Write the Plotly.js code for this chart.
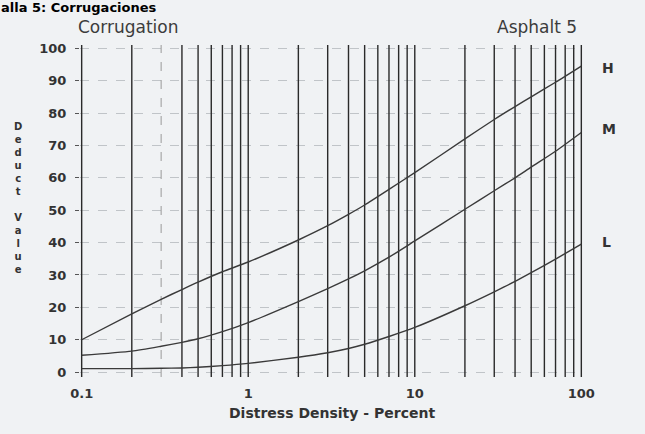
<!DOCTYPE html>
<html>
<head>
<meta charset="utf-8">
<script src="https://cdn.plot.ly/plotly-3.0.1.min.js"></script>
<style>
  html, body { margin: 0; padding: 0; background: #f0f2f4; }
  #chart { width: 645px; height: 434px; }
</style>
</head>
<body>
<div id="chart"></div>
<script>
// Distress density (percent) sample points
const density = [0.1, 0.2, 0.3, 0.4, 0.5, 0.7, 1, 2, 3, 4, 5, 7, 10, 20, 30, 40, 50, 70, 100];
// Deduct values by severity
const highSeverity   = [10.0, 18.0, 22.5, 25.5, 27.8, 31.0, 34.0, 40.8, 45.2, 48.7, 51.6, 56.4, 61.6, 72.0, 78.0, 82.0, 85.0, 89.5, 94.5];
const mediumSeverity = [5.2, 6.5, 8.0, 9.2, 10.3, 12.5, 15.3, 21.8, 25.8, 28.8, 31.3, 35.5, 40.5, 50.3, 56.0, 60.0, 63.3, 68.2, 74.0];
const lowSeverity    = [1.1, 1.1, 1.2, 1.3, 1.5, 2.0, 2.7, 4.6, 6.0, 7.3, 8.6, 11.0, 13.8, 20.5, 24.8, 28.0, 30.7, 34.9, 39.5];
const severityLabels = ['H', 'M', 'L'];

// Axis ticks and grid
const xTickVals = [0.1, 1, 10, 100];
const xTickText = ['0.1', '1', '10', '100'];
const yTickVals = [0, 10, 20, 30, 40, 50, 60, 70, 80, 90, 100];
const gridDark = [0.1, 0.2, 0.4, 0.5, 0.6, 0.7, 0.8, 0.9, 1, 2, 3, 4, 5, 6, 7, 8, 9, 10, 20, 30, 40, 50, 60, 70, 80, 90, 100];
const gridFaint = [0.3];

const yLo = -1.5, yHi = 101;
function gridTrace(vals, color, width, dash) {
  const x = [], y = [];
  vals.forEach(v => { x.push(v, v, null); y.push(yLo, yHi, null); });
  return { x, y, mode: 'lines', type: 'scatter', hoverinfo: 'skip', showlegend: false,
           line: { color, width, dash } };
}
function curve(vals) {
  return { x: density, y: vals, mode: 'lines', type: 'scatter', showlegend: false,
           line: { color: '#3a3a3a', width: 1.4, shape: 'spline', smoothing: 0.6 } };
}

const traces = [
  gridTrace(gridFaint, '#9a9a9a', 1, 'dash'),
  gridTrace(gridDark, '#2a2a2a', 1.4, 'solid'),
  curve(highSeverity), curve(mediumSeverity), curve(lowSeverity)
];

const txt = '#333333';
const labelY = [93.8, 75.0, 40.2];
const sevAnn = severityLabels.map((s, i) => ({
  text: s, xref: 'paper', yref: 'y', x: 1.033, y: labelY[i],
  xanchor: 'left', yanchor: 'middle', showarrow: false,
  font: { family: 'DejaVu Sans', size: 14, color: txt, weight: 'bold' }
}));
const yTitleLetters = 'Deduct\u00a0Value'.split('').join('<br>');

const layout = {
  width: 645, height: 434,
  margin: { l: 80, r: 62, t: 45, b: 57 },
  paper_bgcolor: '#f0f2f4', plot_bgcolor: '#f0f2f4',
  xaxis: {
    type: 'log', range: [-1.01, 2.01],
    tickvals: xTickVals, ticktext: xTickText,
    showgrid: false, zeroline: false, showline: false, ticks: '',
    tickfont: { family: 'DejaVu Sans', size: 13, color: txt, weight: 'bold' },
    ticklabelstandoff: 7
  },
  yaxis: {
    range: [yLo, yHi], tickvals: yTickVals,
    showgrid: true, gridcolor: '#c0c4c8', griddash: 'dash', gridwidth: 1,
    zeroline: false, showline: false, ticks: 'outside', ticklen: 4, tickcolor: '#555',
    tickfont: { family: 'DejaVu Sans', size: 13, color: txt, weight: 'bold' },
    ticklabelstandoff: 6
  },
  annotations: [
    { text: '<b>alla 5: Corrugaciones</b>', xref: 'paper', yref: 'paper', x: -0.162, y: 1.114,
      xanchor: 'left', yanchor: 'middle', showarrow: false,
      font: { family: 'DejaVu Sans', size: 13, color: '#000' } },
    { text: 'Corrugation', xref: 'paper', yref: 'paper', x: -0.007, y: 1.053,
      xanchor: 'left', yanchor: 'middle', showarrow: false,
      font: { family: 'DejaVu Sans', size: 17, color: '#3c3c3c' } },
    { text: 'Asphalt 5', xref: 'paper', yref: 'paper', x: 0.992, y: 1.053,
      xanchor: 'right', yanchor: 'middle', showarrow: false,
      font: { family: 'DejaVu Sans', size: 17, color: '#3c3c3c' } },
    { text: 'Distress Density - Percent', xref: 'paper', yref: 'paper', x: 0.5, y: -0.107,
      xanchor: 'center', yanchor: 'middle', showarrow: false,
      font: { family: 'DejaVu Sans', size: 14, color: txt, weight: 'bold' } },
    { text: yTitleLetters, xref: 'paper', yref: 'paper', x: -0.124, y: 0.54,
      xanchor: 'center', yanchor: 'middle', showarrow: false, align: 'center',
      font: { family: 'DejaVu Sans', size: 10, color: txt, weight: 'bold' } }
  ].concat(sevAnn)
};

Plotly.newPlot('chart', traces, layout, { staticPlot: true, displayModeBar: false });
</script>
</body>
</html>
